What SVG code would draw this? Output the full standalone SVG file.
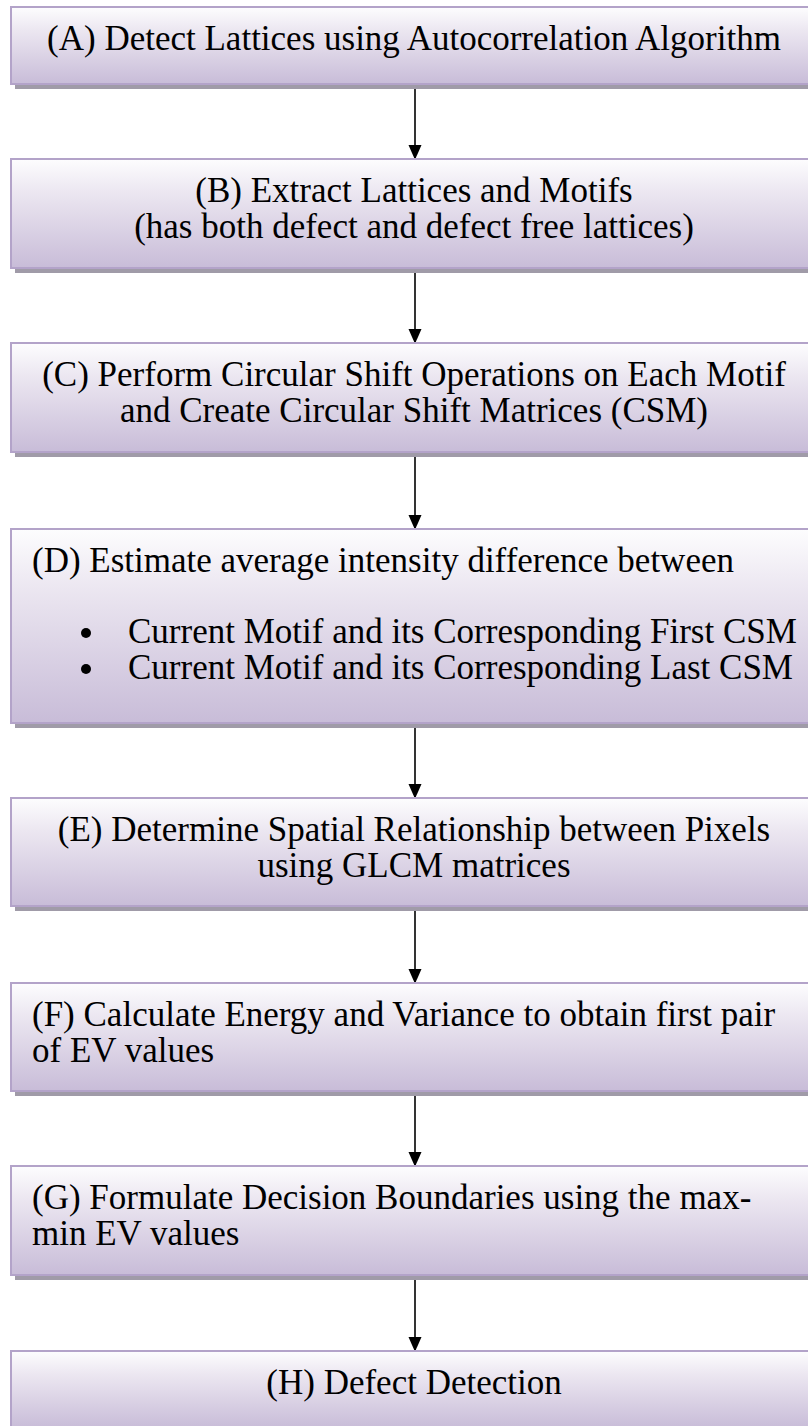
<svg xmlns="http://www.w3.org/2000/svg" width="808" height="1426" viewBox="0 0 808 1426">
<style>
.box{fill:url(#g);stroke:#b3a3c9;stroke-width:2}
.sh{fill:#a09ba8}
.t{font-family:"Liberation Serif","Times New Roman",serif;font-size:35px;fill:#000}
.c{text-anchor:middle}
.con{stroke:#000;stroke-width:1.6;fill:none;marker-end:url(#ah)}
</style>
<defs>
<linearGradient id="g" x1="0" y1="0" x2="0" y2="1">
<stop offset="0" stop-color="#fdfdfe"/>
<stop offset="0.3" stop-color="#ece7f1"/>
<stop offset="1" stop-color="#c8bcd8"/>
</linearGradient>
<marker id="ah" markerWidth="15" markerHeight="17" refX="15" refY="7.5" orient="auto" markerUnits="userSpaceOnUse" viewBox="0 0 17 15">
<path d="M0,0 L17,7.5 L0,15 Z" fill="#000"/>
</marker>
</defs>
<g id="connectors">
<line class="con" x1="415" y1="86" x2="415" y2="158"/>
<line class="con" x1="415" y1="270" x2="415" y2="342"/>
<line class="con" x1="415" y1="454" x2="415" y2="528"/>
<line class="con" x1="415" y1="725" x2="415" y2="797"/>
<line class="con" x1="415" y1="908" x2="415" y2="982"/>
<line class="con" x1="415" y1="1093" x2="415" y2="1165"/>
<line class="con" x1="415" y1="1277" x2="415" y2="1350"/>
</g>
<g id="A">
<rect class="sh" x="15" y="12" width="810" height="77"/>
<rect class="box" x="11" y="7" width="810" height="77"/>
<text class="t c" x="414" y="50">(A) Detect Lattices using Autocorrelation Algorithm</text>
</g>
<g id="B">
<rect class="sh" x="15" y="164" width="810" height="109"/>
<rect class="box" x="11" y="159" width="810" height="109"/>
<text class="t c" x="414" y="202">(B) Extract Lattices and Motifs</text>
<text class="t c" x="414" y="238">(has both defect and defect free lattices)</text>
</g>
<g id="C">
<rect class="sh" x="15" y="348" width="810" height="109"/>
<rect class="box" x="11" y="343" width="810" height="109"/>
<text class="t c" x="414" y="386">(C) Perform Circular Shift Operations on Each Motif</text>
<text class="t c" x="414" y="422">and Create Circular Shift Matrices (CSM)</text>
</g>
<g id="D">
<rect class="sh" x="15" y="534" width="810" height="194"/>
<rect class="box" x="11" y="529" width="810" height="194"/>
<text class="t" x="32" y="572">(D) Estimate average intensity difference between</text>
<circle cx="86" cy="633" r="5"/>
<circle cx="86" cy="669" r="5"/>
<text class="t" x="128" y="643">Current Motif and its Corresponding First CSM</text>
<text class="t" x="128" y="679">Current Motif and its Corresponding Last CSM</text>
</g>
<g id="E">
<rect class="sh" x="15" y="803" width="810" height="108"/>
<rect class="box" x="11" y="798" width="810" height="108"/>
<text class="t c" x="414" y="841">(E) Determine Spatial Relationship between Pixels</text>
<text class="t c" x="414" y="877">using GLCM matrices</text>
</g>
<g id="F">
<rect class="sh" x="15" y="988" width="810" height="108"/>
<rect class="box" x="11" y="983" width="810" height="108"/>
<text class="t" x="32" y="1026">(F) Calculate Energy and Variance to obtain first pair</text>
<text class="t" x="32" y="1062">of EV values</text>
</g>
<g id="G">
<rect class="sh" x="15" y="1171" width="810" height="109"/>
<rect class="box" x="11" y="1166" width="810" height="109"/>
<text class="t" x="32" y="1209">(G) Formulate Decision Boundaries using the max-</text>
<text class="t" x="32" y="1245">min EV values</text>
</g>
<g id="H">
<rect class="sh" x="15" y="1356" width="810" height="77"/>
<rect class="box" x="11" y="1351" width="810" height="77"/>
<text class="t c" x="414" y="1394">(H) Defect Detection</text>
</g>
</svg>
